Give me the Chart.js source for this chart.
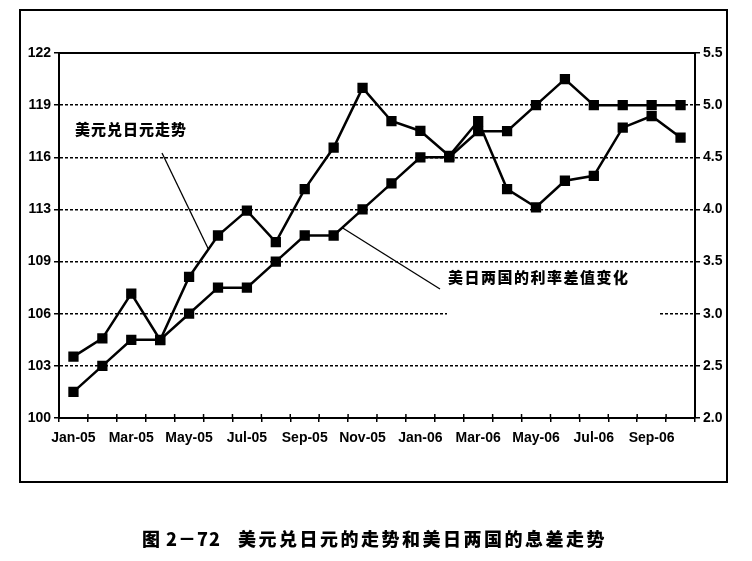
<!DOCTYPE html>
<html>
<head>
<meta charset="utf-8">
<script src="https://cdn.jsdelivr.net/npm/chart.js@4.4.1/dist/chart.umd.min.js"></script>
<style>
  html, body { margin: 0; padding: 0; background: #fff; }
  #wrap { width: 752px; height: 561px; }
</style>
</head>
<body>
<div id="wrap"><canvas id="grafico" width="752" height="561"></canvas></div>
<script>
// meses (eixo x), mostrados de dois em dois
const meses = ['Jan-05', 'Feb-05', 'Mar-05', 'Apr-05', 'May-05', 'Jun-05', 'Jul-05', 'Aug-05',
  'Sep-05', 'Oct-05', 'Nov-05', 'Dec-05', 'Jan-06', 'Feb-06', 'Mar-06', 'Apr-06',
  'May-06', 'Jun-06', 'Jul-06', 'Aug-06', 'Sep-06', 'Oct-06'];

// 美元兑日元 (eixo esquerdo)
const usdJpy = [103.7, 104.8, 107.5, 104.7, 108.5, 111.0, 112.5, 110.6, 113.8, 116.3, 119.9,
  117.9, 117.3, 115.8, 117.9, 113.8, 112.7, 114.3, 114.6, 117.5, 118.2, 116.9];

// 美日利率差 (eixo direito)
const diferencial = [2.25, 2.5, 2.75, 2.75, 3.0, 3.25, 3.25, 3.5, 3.75, 3.75, 4.0,
  4.25, 4.5, 4.5, 4.75, 4.75, 5.0, 5.25, 5.0, 5.0, 5.0, 5.0];

const ticksEsquerda = ['100', '103', '106', '109', '113', '116', '119', '122'];
const ticksDireita = ['2.0', '2.5', '3.0', '3.5', '4.0', '4.5', '5.0', '5.5'];

const fonteTick = { family: "'Liberation Sans Narrow', 'Liberation Sans', Arial, sans-serif", size: 14, weight: 'bold' };
const fonteCJK = "'Noto Sans CJK SC', 'Noto Sans', sans-serif";

// ponto intermediario de uma serie (indice fracionario)
function pontoNaLinha(chart, ds, t) {
  const pts = chart.getDatasetMeta(ds).data;
  const i = Math.floor(t);
  const f = t - i;
  return {
    x: pts[i].x + (pts[i + 1].x - pts[i].x) * f,
    y: pts[i].y + (pts[i + 1].y - pts[i].y) * f
  };
}

const decoracao = {
  id: 'decoracao',
  afterDatasetsDraw(chart) {
    const { ctx, chartArea: a } = chart;
    ctx.save();

    // linha de cima da area do grafico
    ctx.strokeStyle = '#000';
    ctx.lineWidth = 2;
    ctx.beginPath();
    ctx.moveTo(a.left, a.top);
    ctx.lineTo(a.right, a.top);
    ctx.stroke();

    // caixa branca do segundo rotulo
    ctx.fillStyle = '#fff';
    ctx.fillRect(447, 264, 211, 56);

    ctx.fillStyle = '#000';
    ctx.textBaseline = 'middle';
    ctx.textAlign = 'left';
    ctx.font = '900 15px ' + fonteCJK;
    ctx.letterSpacing = '1px';
    ctx.fillText('美元兑日元走势', 75, 129);
    ctx.letterSpacing = '1.5px';
    ctx.fillText('美日两国的利率差值变化', 448, 277);

    // linhas de chamada
    ctx.lineWidth = 1.3;
    const p1 = pontoNaLinha(chart, 0, 4.67);
    ctx.beginPath();
    ctx.moveTo(162, 153);
    ctx.lineTo(p1.x, p1.y);
    ctx.stroke();
    const p2 = pontoNaLinha(chart, 1, 9.3);
    ctx.beginPath();
    ctx.moveTo(440, 289);
    ctx.lineTo(p2.x, p2.y);
    ctx.stroke();

    // marcas do eixo x cruzando a linha (parte de dentro)
    const x = chart.scales.x;
    ctx.lineWidth = 1.5;
    for (let i = 0; i <= meses.length; i++) {
      const px = x.getPixelForValue(i - 0.5);
      ctx.beginPath();
      ctx.moveTo(px, a.bottom);
      ctx.lineTo(px, a.bottom - 4);
      ctx.stroke();
    }
    ctx.restore();
  },
  afterDraw(chart) {
    const ctx = chart.ctx;
    ctx.save();
    // moldura externa
    ctx.strokeStyle = '#000';
    ctx.lineWidth = 2;
    ctx.strokeRect(20, 10, 707, 472);

    // titulo
    ctx.fillStyle = '#000';
    ctx.textBaseline = 'middle';
    ctx.textAlign = 'left';
    ctx.font = '900 18px ' + fonteCJK;
    ctx.letterSpacing = '1px';
    ctx.fillText('图 2－72', 142, 539);
    ctx.letterSpacing = '2.5px';
    ctx.fillText('美元兑日元的走势和美日两国的息差走势', 238, 539);
    ctx.restore();
  }
};

new Chart(document.getElementById('grafico').getContext('2d'), {
  type: 'line',
  data: {
    labels: meses,
    datasets: [
      {
        label: '美元兑日元走势',
        data: usdJpy,
        yAxisID: 'y',
        borderColor: '#000',
        backgroundColor: '#000',
        borderWidth: 2.5,
        pointStyle: 'rect',
        pointRadius: 5.5,
        tension: 0
      },
      {
        label: '美日两国的利率差值变化',
        data: diferencial,
        yAxisID: 'y2',
        borderColor: '#000',
        backgroundColor: '#000',
        borderWidth: 2.5,
        pointStyle: 'rect',
        pointRadius: 5.5,
        tension: 0
      }
    ]
  },
  options: {
    responsive: false,
    animation: false,
    layout: { padding: { left: 20, right: 20, top: 53, bottom: 113 } },
    plugins: {
      legend: { display: false },
      tooltip: { enabled: false }
    },
    scales: {
      x: {
        offset: true,
        grid: { offset: true, drawOnChartArea: false, color: '#000', tickLength: 4, lineWidth: 1.5 },
        border: { color: '#000', width: 2 },
        ticks: {
          autoSkip: false,
          maxRotation: 0,
          padding: 8,
          color: '#000',
          font: fonteTick,
          callback: (v, i) => (i % 2 === 0 ? meses[i] : '')
        },
        afterFit: s => { s.height = 30; }
      },
      y: {
        position: 'left',
        min: 100,
        max: 122,
        afterBuildTicks: s => {
          s.ticks = ticksEsquerda.map((t, i) => ({ value: 100 + i * 22 / 7 }));
        },
        grid: { color: '#000', lineWidth: 1.5, tickLength: 5, tickBorderDash: [] },
        border: { color: '#000', width: 2, dash: [3, 2] },
        ticks: {
          padding: 3,
          color: '#000',
          font: fonteTick,
          callback: (v, i) => ticksEsquerda[i]
        },
        afterFit: s => { s.width = 39; }
      },
      y2: {
        position: 'right',
        min: 2,
        max: 5.5,
        afterBuildTicks: s => {
          s.ticks = ticksDireita.map(t => ({ value: parseFloat(t) }));
        },
        grid: { drawOnChartArea: false, color: '#000', lineWidth: 1.5, tickLength: 5 },
        border: { color: '#000', width: 2 },
        ticks: {
          padding: 3,
          color: '#000',
          font: fonteTick,
          callback: (v, i) => ticksDireita[i]
        },
        afterFit: s => { s.width = 37; }
      }
    }
  },
  plugins: [decoracao]
});
</script>
</body>
</html>
